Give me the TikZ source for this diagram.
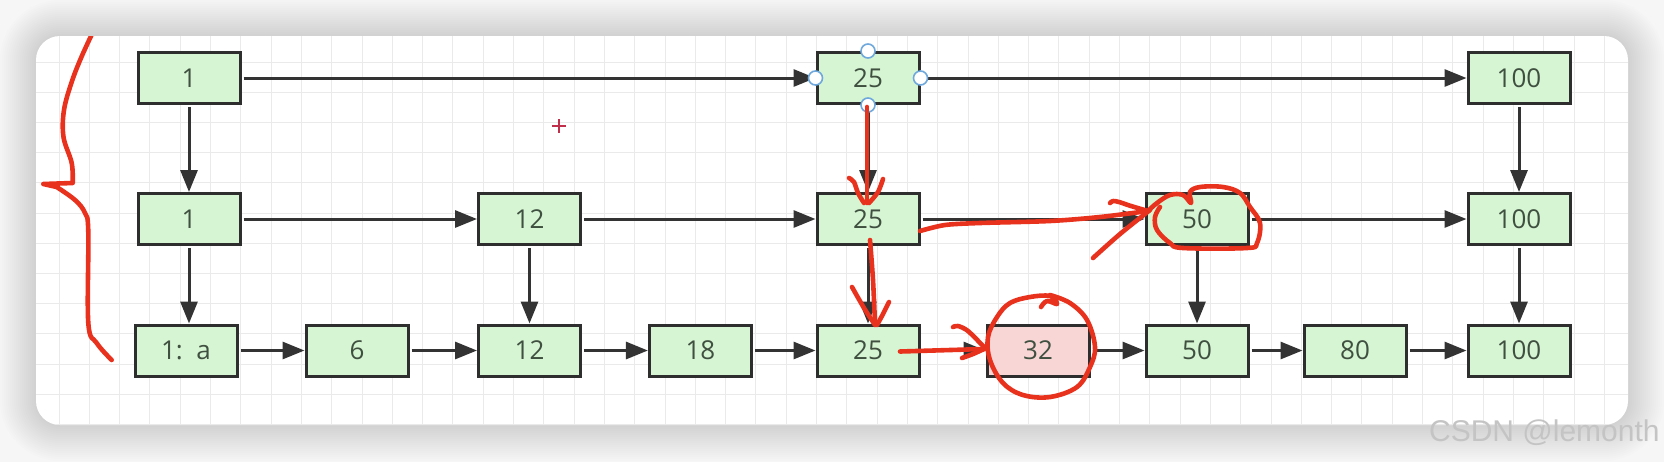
\documentclass[tikz,border=0pt]{standalone}
\usepackage{fontspec}
\setmainfont{Open Sans}
\newfontfamily\wmfont{Liberation Sans}
\usetikzlibrary{arrows.meta}
\definecolor{bgc}{HTML}{F6F6F6}
\definecolor{boxfill}{HTML}{D6F5D3}
\definecolor{pinkfill}{HTML}{F8D6D6}
\definecolor{boxline}{HTML}{2E2E2E}
\definecolor{boxtext}{HTML}{405040}
\definecolor{arrowc}{HTML}{333333}
\definecolor{redink}{HTML}{E8321E}
\definecolor{gridc}{HTML}{EAEAEA}
\definecolor{handlec}{HTML}{6FA8DC}
\definecolor{plusc}{HTML}{C0304A}
\definecolor{wmc}{HTML}{C4C4C4}
\begin{document}
\begin{tikzpicture}[x=0.5pt,y=-0.5pt,
  nodebox/.style={draw=boxline, line width=1.5pt, fill=boxfill, minimum width=51pt, minimum height=25.5pt, inner sep=0pt, text=boxtext, font=\fontsize{13}{15}\selectfont},
  link/.style={draw=arrowc, line width=1.5pt, -{Triangle[length=11pt,width=8.5pt]}, shorten <=1pt},
  ink/.style={draw=redink, line width=2.3pt, line cap=round, line join=round},
  handlept/.style={circle, draw=handlec, fill=white, line width=0.8pt, minimum size=7pt, inner sep=0pt}
]
\useasboundingbox (0,0) rectangle (1664,462);
\fill[bgc] (0,0) rectangle (1664,462);
% shadow
\foreach \i in {2,4,...,36}{
  \pgfmathsetmacro{\rr}{12+0.5*\i}
  \fill[black,opacity=0.007,rounded corners=\rr pt] ({36-\i},{36-\i}) rectangle ({1628+\i},{425+\i});
}
% card
\fill[white, rounded corners=12pt] (36,36) rectangle (1628,425);
\begin{scope}
  \clip[rounded corners=12pt] (36,36) rectangle (1628,425);
  \foreach \k in {0,...,52}{
    \draw[gridc, line width=0.5pt] ({28.7+30.3*\k},36) -- ({28.7+30.3*\k},425);
  }
  \foreach \k in {0,...,13}{
    \draw[gridc, line width=0.5pt] (36,{31.8+30.2*\k}) -- (1628,{31.8+30.2*\k});
  }
\end{scope}

% nodes
\node[nodebox] (a1) at (189,78) {1};
\node[nodebox] (a25) at (868,78) {25};
\node[nodebox] (a100) at (1519,78) {100};
\node[nodebox] (b1) at (189,219) {1};
\node[nodebox] (b12) at (529.5,219) {12};
\node[nodebox] (b25) at (868,219) {25};
\node[nodebox] (b50) at (1197,219) {50};
\node[nodebox] (b100) at (1519,219) {100};
\node[nodebox] (c1) at (186,350.5) {1:\ \ a};
\node[nodebox] (c6) at (357,350.5) {6};
\node[nodebox] (c12) at (529.5,350.5) {12};
\node[nodebox] (c18) at (700.4,350.5) {18};
\node[nodebox] (c25) at (868,350.5) {25};
\node[nodebox, fill=pinkfill] (c32) at (1038,350.5) {32};
\node[nodebox] (c50) at (1197,350.5) {50};
\node[nodebox] (c80) at (1355,350.5) {80};
\node[nodebox] (c100) at (1519,350.5) {100};

% black links
\path[link] (a1) -- (a25);
\path[link] (a25) -- (a100);
\path[link] (a1) -- (b1);
\path[link] (a25) -- (b25);
\path[link] (a100) -- (b100);
\path[link] (b1) -- (b12);
\path[link] (b12) -- (b25);
\path[link] (b25) -- (b50);
\path[link] (b50) -- (b100);
\path[link] (b1.south) -- (b1.south |- c1.north);
\path[link] (b12) -- (c12);
\path[link] (b25) -- (c25);
\path[link] (b50) -- (c50);
\path[link] (b100) -- (c100);
\path[link] (c1) -- (c6);
\path[link] (c6) -- (c12);
\path[link] (c12) -- (c18);
\path[link] (c18) -- (c25);
\path[link] (c25) -- (c32);
\path[link] (c32) -- (c50);
\path[link] (c50) -- (c80);
\path[link] (c80) -- (c100);

% selection handles
\node[handlept] (h1) at (a25.north) {};
\node[handlept] (h2) at (a25.south) {};
\node[handlept] (h3) at (a25.west) {};
\node[handlept] (h4) at (a25.east) {};

% small plus
\draw[plusc, line width=1.2pt] (552,126) -- (566,126) (559,119) -- (559,133);

% red annotations
\begin{scope}
\clip[rounded corners=12pt] (36,36) rectangle (1628,425);
% brace
\draw[ink] plot[smooth, tension=0.6] coordinates {(92,34)(81,58)(71.7,82)(64,110)(63.5,137)(71.7,163)(72.7,183)} -- (43.3,184) -- (56.7,187) plot[smooth, tension=0.6] coordinates {(56.7,187)(75,200)(85,213)(88.3,232)(88.3,323)(96.7,343)(111.7,360)};
\end{scope}
% arrow top 25 -> mid 25
\draw[ink] (867,107) -- (867,203);
\draw[ink] plot[smooth] coordinates {(849,178)(854,182)(858,193)(864,203)};
\draw[ink] plot[smooth] coordinates {(883,179)(878,192)(869,203)};
% arrow mid 25 -> bottom 25
\draw[ink] plot[smooth] coordinates {(870,240)(873,280)(875,324)};
\draw[ink] plot[smooth] coordinates {(852,287)(864,308)(875,325)};
\draw[ink] plot[smooth] coordinates {(889,302)(883,314)(877,325)};
% arrow mid 25 -> 50
\draw[ink] plot[smooth] coordinates {(920,231)(945,225)(980,223)(1050,221)(1100,217)(1148,211)};
\draw[ink] plot[smooth] coordinates {(1110,203)(1113,201)(1119,202)(1131,206)(1148,211)};
\draw[ink] plot[smooth] coordinates {(1093,258)(1120,234)(1150,210)};
% cloud around 50
\draw[ink] plot[smooth, tension=0.6] coordinates {(1148,211)(1157,203)(1170,195)(1183,195)(1191,203)(1190,192)(1200,187)(1223,187)(1240,193)(1250,207)(1260,223)(1257,243)(1247,248)(1183,248)(1170,243)(1157,230)(1155,217)(1160,207)};
% arrow bottom 25 -> 32
\draw[ink] (900,351.5) -- (984,349);
\draw[ink] plot[smooth] coordinates {(953,327)(958,326)(968,331)(984,347)};
\draw[ink] plot[smooth] coordinates {(962,358)(973,354)(984,349)};
% circle around 32
\draw[ink] plot[smooth, tension=0.6] coordinates {(1041,307)(1047,301)(1057,304)(1050,296)(1030,297)(1010,303)(997,317)(988,337)(990,360)(1003,383)(1023,395)(1050,397)(1077,387)(1090,367)(1095,347)(1087,320)(1070,303)(1050,295)};

% watermark
\node[anchor=east, text=wmc, font=\wmfont\fontsize{15}{17}\selectfont, inner sep=0pt] (wm) at (1660,433) {CSDN @lemonth};
\end{tikzpicture}
\end{document}
